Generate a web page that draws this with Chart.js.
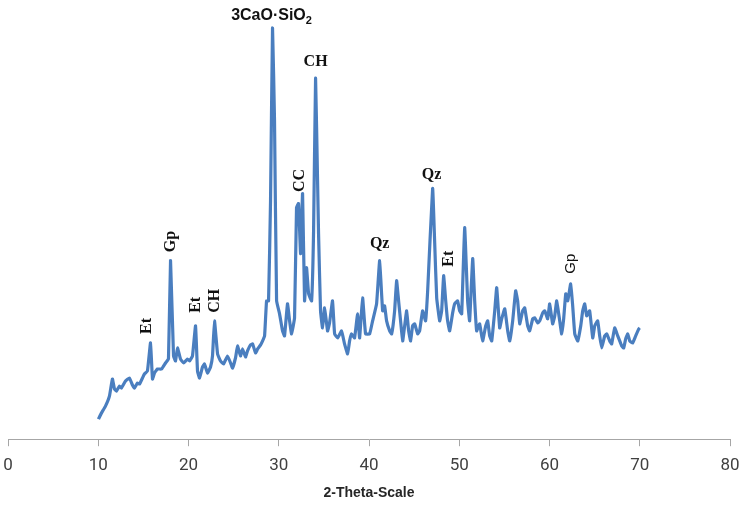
<!DOCTYPE html>
<html>
<head>
<meta charset="utf-8">
<script src="https://cdn.jsdelivr.net/npm/chart.js@4.4.0/dist/chart.umd.min.js"></script>
<style>
  html, body { margin: 0; padding: 0; background: #fff; }
  #wrap { width: 739px; height: 506px; position: relative; }
</style>
</head>
<body>
<div id="wrap"><canvas id="xrd"></canvas></div>
<script>
// XRD pattern (2-theta, relative intensity)
const twoTheta = [
  10.02,10.35,10.80,11.24,11.57,11.80,12.02,12.35,12.57,13.02,13.46,13.79,14.01,14.34,14.57,14.90,15.12,15.45,15.79,16.01,
  16.23,16.56,17.01,17.45,17.78,18.01,18.34,18.56,18.78,19.11,19.45,19.89,20.11,20.44,20.78,21.00,21.22,21.55,21.77,22.11,
  22.44,22.66,22.88,23.22,23.55,23.88,24.33,24.66,24.88,25.21,25.43,25.76,25.99,26.32,26.54,26.87,27.10,27.43,27.66,27.99,
  28.21,28.43,28.65,28.87,29.09,29.31,29.53,29.76,30.09,30.42,30.64,30.97,31.20,31.42,31.75,31.97,32.19,32.42,32.64,32.86,
  33.08,33.31,33.64,33.86,34.08,34.30,34.41,34.63,34.85,35.08,35.41,35.63,35.96,36.19,36.52,36.96,37.29,37.63,37.85,38.07,
  38.40,38.74,38.96,39.29,39.62,40.07,40.40,40.84,41.18,41.51,41.73,41.95,42.29,42.51,42.84,43.06,43.28,43.50,43.73,43.95,
  44.17,44.39,44.61,44.83,45.06,45.39,45.61,45.94,46.27,46.50,47.05,47.27,47.50,47.83,48.05,48.27,48.50,48.71,48.94,49.27,
  49.49,49.82,50.04,50.27,50.60,50.93,51.15,51.49,51.71,51.93,52.26,52.59,52.93,53.15,53.37,53.60,53.93,54.15,54.48,54.70,
  55.04,55.37,55.59,55.92,56.25,56.47,56.70,57.03,57.25,57.58,57.80,58.14,58.36,58.69,58.92,59.25,59.47,59.80,60.02,60.35,
  60.58,60.80,61.13,61.35,61.57,61.80,62.02,62.35,62.57,62.80,63.13,63.46,63.68,63.90,64.12,64.45,64.79,65.01,65.34,65.56,
  65.78,66.12,66.34,66.67,66.89,67.22,67.56,67.78,68.00,68.22,68.44,68.67,68.89,69.22,69.55,69.89,70.00
];
const intensity = [
  20,26,33,43,60,50,48,53,51,58,61,54,51,56,55,61,65,68,96,60,
  66,70,70,76,80,178,83,78,91,80,76,80,78,83,113,68,61,72,75,66,
  72,83,118,85,78,75,83,76,71,81,93,83,90,82,88,94,95,86,90,94,
  98,103,138,138,238,410,318,138,125,108,103,135,118,105,121,231,235,185,245,138,
  171,145,138,208,360,258,205,128,111,131,108,116,138,105,101,108,95,85,98,105,
  101,125,101,141,105,105,118,135,178,128,133,118,108,105,128,158,138,118,98,113,
  128,108,98,113,115,105,108,128,118,148,250,198,141,118,128,163,138,118,108,126,
  135,138,128,125,211,138,118,180,138,108,115,98,113,118,103,98,128,151,111,120,
  130,108,98,118,148,138,115,128,131,113,108,120,121,116,118,126,128,120,135,115,
  123,138,118,105,120,145,138,155,133,105,98,113,128,135,123,128,101,113,118,103,
  91,103,105,98,95,111,103,98,93,91,100,105,98,96,103,110,111
];

// Phase labels: text, 2-theta, intensity, rotated?, font
const phaseText  = ['Et', 'Gp', 'Et', 'CH', 'CC', 'CH', 'Qz', 'Qz', 'Et', 'Gp'];
const phaseX     = [15.35, 18.0, 20.78, 22.88, 32.3, 34.08, 41.18, 46.94, 48.82, 62.35];
const phaseY     = [113, 197, 134, 138, 258, 376, 195, 264, 180, 175];
const phaseRot   = [true, true, true, true, true, false, false, false, true, true];
const phaseSerif = [true, true, true, true, true, true, true, true, true, false];

const xTicks = [0, 10, 20, 30, 40, 50, 60, 70, 80];

const points = twoTheta.map((t, i) => ({ x: t, y: intensity[i] }));

const labelPlugin = {
  id: 'phaseLabels',
  afterDatasetsDraw(chart) {
    const { ctx, scales: { x, y } } = chart;
    ctx.save();
    ctx.fillStyle = '#111';
    ctx.textAlign = 'center';
    ctx.textBaseline = 'middle';
    phaseText.forEach((txt, i) => {
      const px = x.getPixelForValue(phaseX[i]);
      const py = y.getPixelForValue(phaseY[i]);
      ctx.font = phaseSerif[i] ? 'bold 16px "Liberation Serif"' : '15px "Liberation Sans"';
      ctx.save();
      ctx.translate(px, py);
      if (phaseRot[i]) ctx.rotate(-Math.PI / 2);
      ctx.fillText(txt, 0, 0);
      ctx.restore();
    });

    // main peak label with subscript
    const mx = x.getPixelForValue(29.2);
    const my = y.getPixelForValue(422);
    ctx.font = 'bold 16px "Liberation Sans"';
    const main = '3CaO\u00B7SiO';
    const w1 = ctx.measureText(main).width;
    ctx.font = 'bold 11px "Liberation Sans"';
    const w2 = ctx.measureText('2').width;
    const left = mx - (w1 + w2) / 2;
    ctx.textAlign = 'left';
    ctx.font = 'bold 16px "Liberation Sans"';
    ctx.fillText(main, left, my);
    ctx.font = 'bold 11px "Liberation Sans"';
    ctx.fillText('2', left + w1, my + 5);
    ctx.restore();
  }
};

new Chart(document.getElementById('xrd'), {
  type: 'line',
  data: {
    datasets: [{
      data: points,
      borderColor: '#4a7ebf',
      borderWidth: 3.2,
      pointRadius: 0,
      tension: 0.1,
      fill: false,
    }],
  },
  options: {
    responsive: true,
    maintainAspectRatio: false,
    animation: false,
    layout: { padding: { top: 10, left: 8, right: 9, bottom: 2 } },
    plugins: { legend: { display: false }, tooltip: { enabled: false } },
    scales: {
      x: {
        type: 'linear',
        min: 0,
        max: 80,
        afterBuildTicks: (axis) => { axis.ticks = xTicks.map(v => ({ value: v })); },
        afterFit: (axis) => { axis.paddingLeft = 0; axis.paddingRight = 0; },
        grid: { display: true, drawOnChartArea: false, drawTicks: true, tickLength: 7, color: '#a6a6a6' },
        border: { color: '#a6a6a6', width: 1 },
        ticks: { color: '#404040', font: { family: 'Roboto', size: 17, lineHeight: 1.0 }, padding: 11, maxRotation: 0 },
        title: { display: true, text: '2-Theta-Scale', color: '#262626', font: { family: 'Liberation Sans', size: 14, weight: 'bold' }, padding: { top: 0, bottom: 2 } },
      },
      y: {
        display: false,
        min: 0,
        max: 428,
      },
    },
  },
  plugins: [labelPlugin],
});
</script>
</body>
</html>
